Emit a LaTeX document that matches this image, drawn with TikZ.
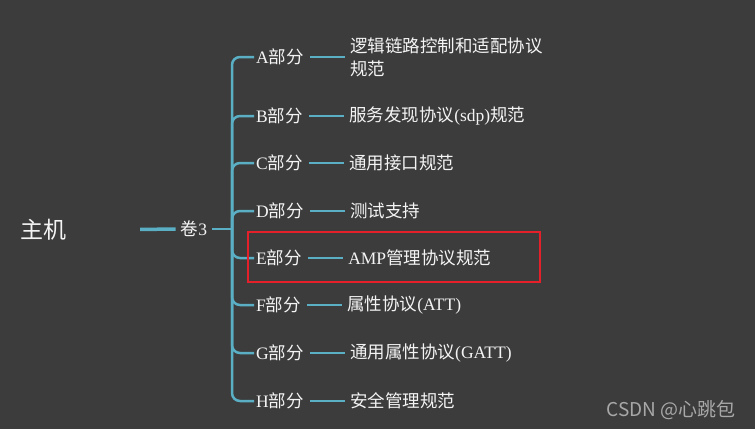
\documentclass[tikz,border=0pt]{standalone}
\usepackage{fontspec}
\setmainfont{Noto Sans CJK SC}
\newfontfamily\latn{Liberation Serif}
\usepackage{tikz}
\usetikzlibrary{positioning}
\definecolor{mmbg}{HTML}{3C3C3C}
\definecolor{mmline}{HTML}{5AAFC4}
\definecolor{mmtext}{HTML}{F4F4F4}
\definecolor{mmred}{HTML}{E5202A}
\definecolor{mmmark}{HTML}{A8A8A8}

\begin{document}
\begin{tikzpicture}[
  x=1pt, y=-1pt,
  txt/.style={text=mmtext, font=\fontsize{17.5}{23}\selectfont, inner sep=2pt},
  part/.style={txt, anchor=west},
  leaf/.style={txt, align=left, right=42pt of #1},
  link/.style={draw=mmline, line width=2.5pt},
  branch/.style={link, rounded corners=8pt},
  twig/.style={link, shorten <=4pt, shorten >=3pt}
]
\fill[mmbg] (0,0) rectangle (755,429);
\useasboundingbox (0,0) rectangle (755,429);

\node[txt, font=\fontsize{23}{26}\selectfont] (host) at (43,230) {主机};
\node[txt] (vol) at (194,229) {卷{\latn 3}};
\coordinate (trunk) at (232,229);

\node[part] (pA) at (254,57)  {{\latn A}部分};
\node[part] (pB) at (254,116) {{\latn B}部分};
\node[part] (pC) at (254,163) {{\latn C}部分};
\node[part] (pD) at (254,211) {{\latn D}部分};
\node[part] (pE) at (254,258) {{\latn E}部分};
\node[part] (pF) at (254,305) {{\latn F}部分};
\node[part] (pG) at (254,353) {{\latn G}部分};
\node[part] (pH) at (254,401) {{\latn H}部分};

\node[leaf=pA] (dA) {逻辑链路控制和适配协议\\规范};
\node[leaf=pB] (dB) {服务发现协议{\latn (sdp)}规范};
\node[leaf=pC] (dC) {通用接口规范};
\node[leaf=pD] (dD) {测试支持};
\node[leaf=pE] (dE) {{\latn AMP}管理协议规范};
\node[leaf=pF] (dF) {属性协议{\latn (ATT)}};
\node[leaf=pG] (dG) {通用属性协议{\latn (GATT)}};
\node[leaf=pH] (dH) {安全管理规范};

\draw[link, line width=3.5pt, shorten <=72pt, shorten >=3pt] (host) -- (vol);
\draw[link, shorten <=3pt] (vol) -- (trunk);
\foreach \r in {A,...,H} {
  \draw[branch] (trunk) |- (p\r.west);
  \draw[twig] (p\r) -- (d\r);
}

% highlighted row
\draw[mmred, line width=1.5pt] (248,232) rectangle (540,282);

\node[text=mmmark, font=\fontsize{19}{22}\selectfont, anchor=east] (mark) at (739,410) {CSDN @心跳包};
\end{tikzpicture}
\end{document}
